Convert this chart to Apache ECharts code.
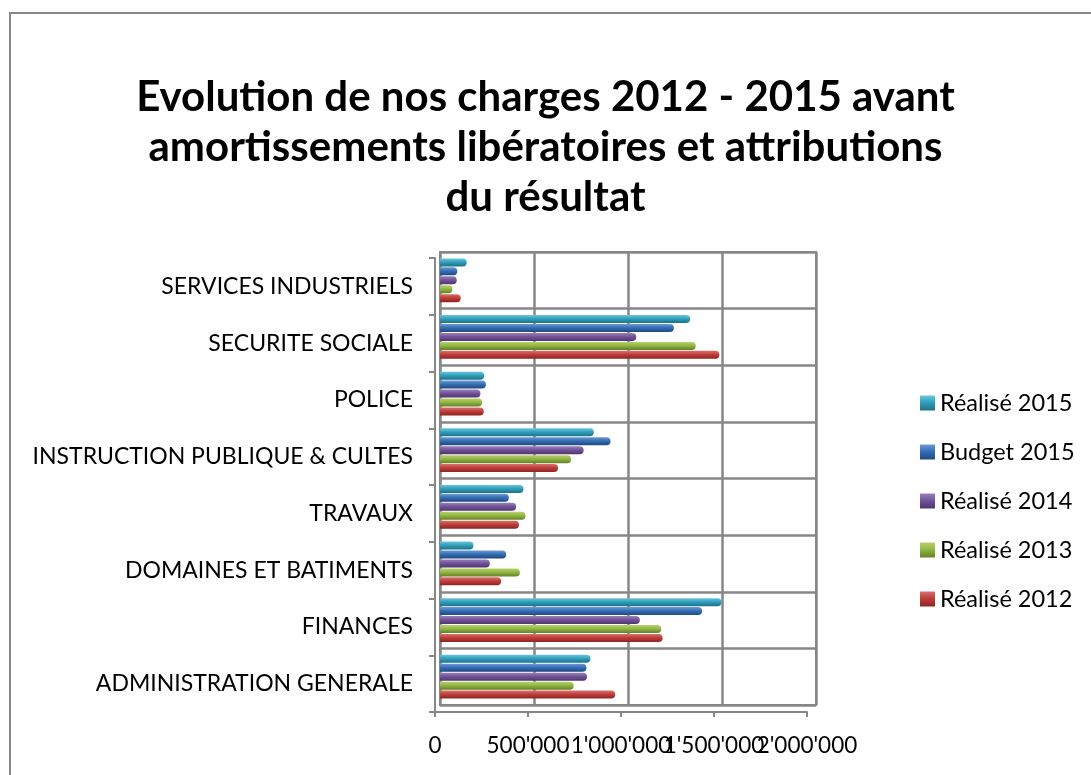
<!DOCTYPE html>
<html>
<head>
<meta charset="utf-8">
<script src="https://cdn.jsdelivr.net/npm/echarts@6/dist/echarts.min.js"></script>
<style>
  html, body { margin: 0; padding: 0; background: #fff; }
  #chart { width: 1091px; height: 775px; }
</style>
</head>
<body>
<div id="chart"></div>
<script>
  // categories, bottom to top
  var categories = ['ADMINISTRATION GENERALE', 'FINANCES', 'DOMAINES ET BATIMENTS', 'TRAVAUX',
    'INSTRUCTION PUBLIQUE & CULTES', 'POLICE', 'SECURITE SOCIALE', 'SERVICES INDUSTRIELS'];
  var realise2012 = [932000, 1184000, 325000, 420000, 628000, 233000, 1486000, 110000];
  var realise2013 = [711000, 1177000, 425000, 455000, 697000, 224000, 1360000, 66000];
  var realise2014 = [782000, 1063000, 265000, 405000, 764000, 215000, 1044000, 89000];
  var budget2015 = [779000, 1394000, 352000, 366000, 907000, 244000, 1244000, 92000];
  var realise2015 = [800000, 1497000, 178000, 444000, 818000, 235000, 1330000, 142000];

  var font = 'Lato';
  var gridGrey = '#878787';
  var step = 500000;

  function grad(light, mid, dark) {
    return new echarts.graphic.LinearGradient(0, 0, 0, 1, [
      { offset: 0, color: light },
      { offset: 0.45, color: mid },
      { offset: 1, color: dark }
    ]);
  }
  function fmt(v) {
    return String(v).replace(/\B(?=(\d{3})+(?!\d))/g, "'");
  }
  function bar(name, data, color) {
    return {
      name: name,
      type: 'bar',
      xAxisIndex: 0,
      yAxisIndex: 0,
      data: data,
      barWidth: 8,
      barGap: '12%',
      itemStyle: { color: color, borderRadius: [0, 4, 4, 0] },
      emphasis: { disabled: true }
    };
  }
  // the labels overlap in the original, so they are split over two stacked axes
  function frontX(even, showLine) {
    return {
      gridIndex: 1, type: 'value', position: 'bottom', min: 0, max: 2000000, interval: step,
      axisLine: { show: showLine, lineStyle: { color: gridGrey, width: 2 } },
      axisTick: { show: showLine, length: 5, lineStyle: { color: gridGrey, width: 2 } },
      axisLabel: {
        formatter: function (v) {
          return ((Math.round(v / step) % 2 === 0) === even) ? fmt(v) : '';
        },
        fontFamily: font, fontSize: 22.5, color: '#000', margin: 22,
        showMinLabel: true, showMaxLabel: true
      },
      splitLine: { show: false }
    };
  }

  var chart = echarts.init(document.getElementById('chart'));
  chart.setOption({
    animation: false,
    backgroundColor: '#fff',
    title: {
      text: 'Evolution de nos charges 2012 - 2015 avant\namortissements libératoires et attributions\ndu résultat',
      left: 'center',
      top: 67,
      textStyle: {
        fontFamily: font,
        fontWeight: 'bold',
        fontSize: 42,
        lineHeight: 50,
        color: '#000'
      }
    },
    legend: {
      orient: 'vertical',
      left: 915,
      top: 386,
      itemWidth: 15,
      itemHeight: 15,
      itemGap: 25,
      icon: 'rect',
      data: ['Réalisé 2015', 'Budget 2015', 'Réalisé 2014', 'Réalisé 2013', 'Réalisé 2012'],
      textStyle: { fontFamily: font, fontSize: 23.5, color: '#000' }
    },
    graphic: [{
      type: 'rect',
      shape: { x: 10, y: 13, width: 1100, height: 800 },
      style: { fill: 'none', stroke: '#878787', lineWidth: 2 },
      silent: true
    }],
    grid: [
      // back wall (bars live here)
      { left: 440, right: 275, top: 252, bottom: 70, show: true, borderColor: gridGrey, borderWidth: 2 },
      // front axes
      { left: 435, right: 284, top: 258, bottom: 63 }
    ],
    xAxis: [
      {
        gridIndex: 0, type: 'value', min: 0, max: 2000000, interval: step,
        axisLine: { show: false }, axisTick: { show: false }, axisLabel: { show: false },
        splitLine: { show: true, lineStyle: { color: gridGrey, width: 2.5 } }
      },
      frontX(true, true),
      frontX(false, false)
    ],
    yAxis: [
      {
        gridIndex: 0, type: 'category', data: categories,
        axisLine: { show: true, lineStyle: { color: gridGrey, width: 2 } },
        axisTick: { show: false }, axisLabel: { show: false },
        splitLine: { show: true, lineStyle: { color: gridGrey, width: 2.5 } }
      },
      {
        gridIndex: 1, type: 'category', data: categories,
        axisLine: { show: true, lineStyle: { color: gridGrey, width: 2 } },
        axisTick: { show: true, length: 6, lineStyle: { color: gridGrey, width: 2 } },
        axisLabel: { fontFamily: font, fontSize: 23, color: '#000', margin: 22 },
        splitLine: { show: false }
      }
    ],
    series: [
      bar('Réalisé 2015', realise2015, grad('#6cc6dc', '#31a1bd', '#1f7187')),
      bar('Budget 2015', budget2015, grad('#6c9bd6', '#356fb5', '#21497e')),
      bar('Réalisé 2014', realise2014, grad('#9a80bd', '#735499', '#4e3670')),
      bar('Réalisé 2013', realise2013, grad('#b6d16f', '#94b843', '#62802a')),
      bar('Réalisé 2012', realise2012, grad('#d9706c', '#bf3f3b', '#8c2422'))
    ]
  });
</script>
</body>
</html>
